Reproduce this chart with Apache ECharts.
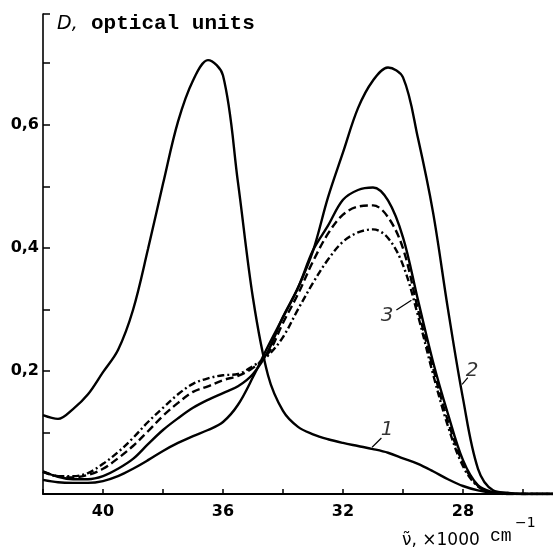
<!DOCTYPE html>
<html><head><meta charset="utf-8">
<script src="https://cdn.jsdelivr.net/npm/echarts@6/dist/echarts.min.js"></script>
<style>html,body{margin:0;padding:0;background:#fff}#c{width:553px;height:550px}</style>
</head><body><div id="c"></div>
<script>
// wavenumber, x1000 cm^-1
const wavenumber = [42,41.5,41,40.5,40,39.5,39,38.5,38,37.5,37,36.5,36,35.5,35,34.5,34,33.5,33,32.5,32,31.5,31,30.5,30,29.5,29,28.5,28,27.5,27,26.5,26,25.5,25];
// optical density D
const curve1 = [0.128,0.122,0.138,0.162,0.198,0.234,0.299,0.398,0.504,0.605,0.672,0.705,0.680,0.506,0.318,0.193,0.135,0.109,0.097,0.089,0.083,0.078,0.073,0.067,0.058,0.049,0.037,0.024,0.013,0.006,0.002,0.001,0,0,0];
const curve2 = [0.023,0.019,0.018,0.018,0.021,0.029,0.041,0.055,0.070,0.083,0.094,0.104,0.117,0.145,0.190,0.240,0.287,0.335,0.395,0.482,0.555,0.627,0.672,0.693,0.677,0.578,0.458,0.300,0.155,0.041,0.006,0.002,0,0,0];
const curve3Solid = [0.037,0.028,0.024,0.024,0.029,0.041,0.057,0.081,0.104,0.123,0.140,0.153,0.164,0.175,0.195,0.232,0.288,0.335,0.396,0.436,0.478,0.494,0.498,0.477,0.417,0.315,0.215,0.130,0.055,0.014,0.003,0,0,0,0];
const curve3Dashed = [0.036,0.029,0.027,0.031,0.041,0.058,0.078,0.102,0.127,0.148,0.166,0.175,0.185,0.192,0.205,0.228,0.278,0.325,0.378,0.423,0.454,0.467,0.469,0.450,0.399,0.300,0.205,0.118,0.050,0.013,0.002,0,0,0,0];
const curve3DashDot = [0.036,0.029,0.029,0.034,0.049,0.068,0.091,0.117,0.140,0.162,0.179,0.188,0.193,0.195,0.208,0.225,0.255,0.300,0.343,0.381,0.410,0.425,0.430,0.416,0.372,0.290,0.195,0.110,0.045,0.012,0.002,0,0,0,0];

const yTickValues = [0.2,0.4,0.6];
const yTickLabels = ['0,2','0,4','0,6'];
const xTickPositions = [42,40,38,36,34,32,30,28,26];
const xTickValues = [40,36,32,28];
const xTickLabels = ['40','36','32','28'];

const curveLabels = ['1','2','3'];
const curveLabelPos = [[30.53,0.104],[27.7,0.201],[30.53,0.289]];
const leaderLines = [
  [[31.03,0.076],[30.72,0.091]],
  [[28.03,0.178],[27.84,0.189]],
  [[30.22,0.299],[29.72,0.315]]
];

function pairs(ys){ return wavenumber.map((x,i)=>[x, ys[i]]); }
function lookup(vals, labels, v){
  for (let i=0;i<vals.length;i++) if (Math.abs(vals[i]-v)<1e-6) return labels[i];
  return '';
}

const chart = echarts.init(document.getElementById('c'), null, {renderer:'canvas'});
const curveStyle = (type)=>({color:'#000', width:2.4, type:type, cap:'butt'});
const common = {type:'line', smooth:0.35, symbol:'none', silent:true, z:3};

const series = [
  Object.assign({}, common, {name:'1', data:pairs(curve1), lineStyle:curveStyle('solid')}),
  Object.assign({}, common, {name:'2', data:pairs(curve2), lineStyle:curveStyle('solid')}),
  Object.assign({}, common, {name:'3a', data:pairs(curve3Solid), lineStyle:curveStyle('solid')}),
  Object.assign({}, common, {name:'3b', data:pairs(curve3Dashed), lineStyle:curveStyle([8,4])}),
  Object.assign({}, common, {name:'3c', data:pairs(curve3DashDot), lineStyle:curveStyle([7,3,2,3])})
];
leaderLines.forEach((l)=>{
  series.push({type:'line', data:l, symbol:'none', silent:true, lineStyle:{color:'#000', width:1.2}});
});
series.push({
  type:'scatter', symbolSize:0, silent:true,
  data: curveLabelPos.map((p,i)=>({value:p, name:curveLabels[i]})),
  label:{show:true, position:'inside', formatter:(p)=>p.name, color:'#000',
         fontFamily:'DejaVu Sans', fontStyle:'italic', fontSize:20}
});

chart.setOption({
  backgroundColor:'#fff',
  animation:false,
  grid:{left:43, right:0, top:14, bottom:56, containLabel:false, outerBoundsMode:'none'},
  xAxis:{
    type:'value', inverse:true, min:25, max:42,
    axisLine:{show:true, onZero:false, lineStyle:{color:'#000', width:2}},
    axisTick:{show:true, inside:true, length:5, customValues:xTickPositions, lineStyle:{color:'#000', width:1.5}},
    axisLabel:{customValues:xTickValues, formatter:(v)=>lookup(xTickValues, xTickLabels, v), color:'#000',
      fontFamily:'DejaVu Sans', fontWeight:'bold', fontSize:16, margin:10},
    splitLine:{show:false}
  },
  yAxis:{
    type:'value', min:0, max:0.78, interval:0.1,
    axisLine:{show:true, lineStyle:{color:'#000', width:1.6}},
    axisTick:{show:true, inside:true, length:7, lineStyle:{color:'#000', width:1.5}},
    axisLabel:{formatter:(v)=>lookup(yTickValues, yTickLabels, v), color:'#000',
      fontFamily:'DejaVu Sans', fontWeight:'bold', fontSize:16, margin:4},
    splitLine:{show:false}
  },
  graphic:[
    {type:'text', x:57, y:24, style:{text:'D,', font:'italic 19px "DejaVu Sans"', fill:'#000', verticalAlign:'middle'}},
    {type:'text', x:91, y:24, style:{text:'optical units', font:'bold 21px "Liberation Mono"', fill:'#000', verticalAlign:'middle'}},
    {type:'text', x:402, y:541, style:{text:'ν̃, ×1000', font:'17px "DejaVu Sans"', fill:'#000', verticalAlign:'middle'}},
    {type:'text', x:490, y:536, style:{text:'cm', font:'18px "Liberation Mono"', fill:'#000', verticalAlign:'middle'}},
    {type:'text', x:515, y:523, style:{text:'−1', font:'14px "DejaVu Sans"', fill:'#000', verticalAlign:'middle'}}
  ],
  series: series
});
</script></body></html>
